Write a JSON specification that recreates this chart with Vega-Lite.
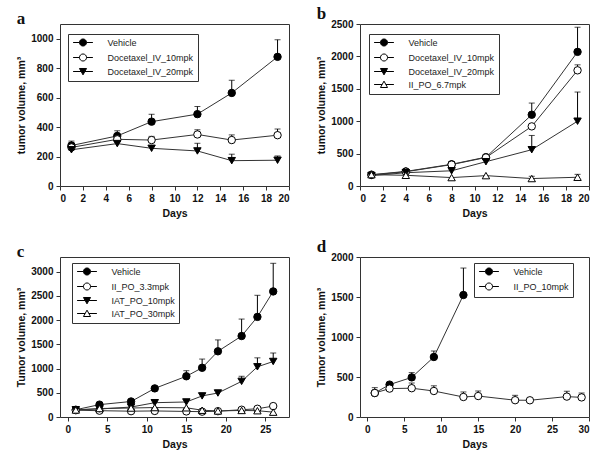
{
  "$schema": "https://vega.github.io/schema/vega-lite/v6.json",
  "padding": {"left": 16, "top": 4, "right": 5, "bottom": 5},
  "bounds": "flush",
  "columns": 2,
  "spacing": 71,
  "resolve": {"scale": {"shape": "independent", "fill": "independent", "stroke": "independent", "x": "independent", "y": "independent"}, "legend": {"shape": "independent", "fill": "independent", "stroke": "independent"}},
  "data": {"values": [
    {"p":"a","g":"Vehicle","d":1,"v":275,"hi":305},
    {"p":"a","g":"Vehicle","d":5,"v":340,"hi":375},
    {"p":"a","g":"Vehicle","d":8,"v":437,"hi":487},
    {"p":"a","g":"Vehicle","d":12,"v":488,"hi":540},
    {"p":"a","g":"Vehicle","d":15,"v":632,"hi":718},
    {"p":"a","g":"Vehicle","d":19,"v":877,"hi":993},
    {"p":"a","g":"Docetaxel_IV_10mpk","d":1,"v":262,"hi":290},
    {"p":"a","g":"Docetaxel_IV_10mpk","d":5,"v":317,"hi":345},
    {"p":"a","g":"Docetaxel_IV_10mpk","d":8,"v":312,"hi":337},
    {"p":"a","g":"Docetaxel_IV_10mpk","d":12,"v":350,"hi":382},
    {"p":"a","g":"Docetaxel_IV_10mpk","d":15,"v":312,"hi":347},
    {"p":"a","g":"Docetaxel_IV_10mpk","d":19,"v":345,"hi":387},
    {"p":"a","g":"Docetaxel_IV_20mpk","d":1,"v":246,"hi":null},
    {"p":"a","g":"Docetaxel_IV_20mpk","d":5,"v":288,"hi":null},
    {"p":"a","g":"Docetaxel_IV_20mpk","d":8,"v":256,"hi":null},
    {"p":"a","g":"Docetaxel_IV_20mpk","d":12,"v":238,"hi":290},
    {"p":"a","g":"Docetaxel_IV_20mpk","d":15,"v":172,"hi":216},
    {"p":"a","g":"Docetaxel_IV_20mpk","d":19,"v":175,"hi":204},

    {"p":"b","g":"Vehicle","d":1,"v":175,"hi":null},
    {"p":"b","g":"Vehicle","d":4,"v":225,"hi":null},
    {"p":"b","g":"Vehicle","d":8,"v":335,"hi":360},
    {"p":"b","g":"Vehicle","d":11,"v":445,"hi":470},
    {"p":"b","g":"Vehicle","d":15,"v":1100,"hi":1280},
    {"p":"b","g":"Vehicle","d":19,"v":2070,"hi":2450},
    {"p":"b","g":"Docetaxel_IV_10mpk","d":1,"v":170,"hi":null},
    {"p":"b","g":"Docetaxel_IV_10mpk","d":4,"v":220,"hi":null},
    {"p":"b","g":"Docetaxel_IV_10mpk","d":8,"v":330,"hi":370},
    {"p":"b","g":"Docetaxel_IV_10mpk","d":11,"v":440,"hi":470},
    {"p":"b","g":"Docetaxel_IV_10mpk","d":15,"v":920,"hi":null},
    {"p":"b","g":"Docetaxel_IV_10mpk","d":19,"v":1785,"hi":1870},
    {"p":"b","g":"Docetaxel_IV_20mpk","d":1,"v":160,"hi":null},
    {"p":"b","g":"Docetaxel_IV_20mpk","d":4,"v":205,"hi":null},
    {"p":"b","g":"Docetaxel_IV_20mpk","d":8,"v":235,"hi":null},
    {"p":"b","g":"Docetaxel_IV_20mpk","d":11,"v":375,"hi":null},
    {"p":"b","g":"Docetaxel_IV_20mpk","d":15,"v":560,"hi":780},
    {"p":"b","g":"Docetaxel_IV_20mpk","d":19,"v":1000,"hi":1450},
    {"p":"b","g":"II_PO_6.7mpk","d":1,"v":175,"hi":null},
    {"p":"b","g":"II_PO_6.7mpk","d":4,"v":165,"hi":null},
    {"p":"b","g":"II_PO_6.7mpk","d":8,"v":130,"hi":null},
    {"p":"b","g":"II_PO_6.7mpk","d":11,"v":160,"hi":null},
    {"p":"b","g":"II_PO_6.7mpk","d":15,"v":115,"hi":150},
    {"p":"b","g":"II_PO_6.7mpk","d":19,"v":135,"hi":180},

    {"p":"c","g":"Vehicle","d":1,"v":150,"hi":null},
    {"p":"c","g":"Vehicle","d":4,"v":255,"hi":null},
    {"p":"c","g":"Vehicle","d":8,"v":320,"hi":null},
    {"p":"c","g":"Vehicle","d":11,"v":590,"hi":null},
    {"p":"c","g":"Vehicle","d":15,"v":840,"hi":955},
    {"p":"c","g":"Vehicle","d":17,"v":1015,"hi":1195},
    {"p":"c","g":"Vehicle","d":19,"v":1355,"hi":1590},
    {"p":"c","g":"Vehicle","d":22,"v":1670,"hi":2020},
    {"p":"c","g":"Vehicle","d":24,"v":2065,"hi":2510},
    {"p":"c","g":"Vehicle","d":26,"v":2590,"hi":3170},
    {"p":"c","g":"II_PO_3.3mpk","d":1,"v":140,"hi":null},
    {"p":"c","g":"II_PO_3.3mpk","d":4,"v":130,"hi":null},
    {"p":"c","g":"II_PO_3.3mpk","d":8,"v":120,"hi":null},
    {"p":"c","g":"II_PO_3.3mpk","d":11,"v":125,"hi":null},
    {"p":"c","g":"II_PO_3.3mpk","d":15,"v":115,"hi":null},
    {"p":"c","g":"II_PO_3.3mpk","d":17,"v":110,"hi":null},
    {"p":"c","g":"II_PO_3.3mpk","d":19,"v":120,"hi":null},
    {"p":"c","g":"II_PO_3.3mpk","d":22,"v":150,"hi":180},
    {"p":"c","g":"II_PO_3.3mpk","d":24,"v":170,"hi":200},
    {"p":"c","g":"II_PO_3.3mpk","d":26,"v":225,"hi":null},
    {"p":"c","g":"IAT_PO_10mpk","d":1,"v":150,"hi":null},
    {"p":"c","g":"IAT_PO_10mpk","d":4,"v":165,"hi":null},
    {"p":"c","g":"IAT_PO_10mpk","d":8,"v":205,"hi":null},
    {"p":"c","g":"IAT_PO_10mpk","d":11,"v":295,"hi":null},
    {"p":"c","g":"IAT_PO_10mpk","d":15,"v":310,"hi":null},
    {"p":"c","g":"IAT_PO_10mpk","d":17,"v":435,"hi":null},
    {"p":"c","g":"IAT_PO_10mpk","d":19,"v":495,"hi":null},
    {"p":"c","g":"IAT_PO_10mpk","d":22,"v":735,"hi":840},
    {"p":"c","g":"IAT_PO_10mpk","d":24,"v":1035,"hi":1220},
    {"p":"c","g":"IAT_PO_10mpk","d":26,"v":1145,"hi":1320},
    {"p":"c","g":"IAT_PO_30mpk","d":1,"v":145,"hi":null},
    {"p":"c","g":"IAT_PO_30mpk","d":4,"v":175,"hi":null},
    {"p":"c","g":"IAT_PO_30mpk","d":8,"v":185,"hi":null},
    {"p":"c","g":"IAT_PO_30mpk","d":11,"v":195,"hi":null},
    {"p":"c","g":"IAT_PO_30mpk","d":15,"v":190,"hi":null},
    {"p":"c","g":"IAT_PO_30mpk","d":17,"v":140,"hi":null},
    {"p":"c","g":"IAT_PO_30mpk","d":19,"v":125,"hi":null},
    {"p":"c","g":"IAT_PO_30mpk","d":22,"v":135,"hi":null},
    {"p":"c","g":"IAT_PO_30mpk","d":24,"v":130,"hi":null},
    {"p":"c","g":"IAT_PO_30mpk","d":26,"v":100,"hi":null},

    {"p":"d","g":"Vehicle","d":1,"v":300,"hi":null},
    {"p":"d","g":"Vehicle","d":3,"v":405,"hi":null},
    {"p":"d","g":"Vehicle","d":6,"v":495,"hi":555},
    {"p":"d","g":"Vehicle","d":9,"v":750,"hi":825},
    {"p":"d","g":"Vehicle","d":13,"v":1525,"hi":1862},
    {"p":"d","g":"II_PO_10mpk","d":1,"v":300,"hi":367},
    {"p":"d","g":"II_PO_10mpk","d":3,"v":355,"hi":null},
    {"p":"d","g":"II_PO_10mpk","d":6,"v":360,"hi":425},
    {"p":"d","g":"II_PO_10mpk","d":9,"v":325,"hi":390},
    {"p":"d","g":"II_PO_10mpk","d":13,"v":250,"hi":313},
    {"p":"d","g":"II_PO_10mpk","d":15,"v":262,"hi":325},
    {"p":"d","g":"II_PO_10mpk","d":20,"v":210,"hi":271},
    {"p":"d","g":"II_PO_10mpk","d":22,"v":209,"hi":null},
    {"p":"d","g":"II_PO_10mpk","d":27,"v":255,"hi":322},
    {"p":"d","g":"II_PO_10mpk","d":29,"v":245,"hi":300}
  ]},
  "concat": [
    {
      "width": 229, "height": 162,
      "title": "a",
      "transform": [{"filter": "datum.p == 'a'"}],
      "encoding": {
        "x": {"field": "d", "type": "quantitative", "scale": {"domain": [0, 20], "nice": false, "zero": false}, "axis": {"title": "Days", "values": [0,2,4,6,8,10,12,14,16,18,20]}},
        "y": {"field": "v", "type": "quantitative", "scale": {"domain": [0, 1100], "nice": false}, "axis": {"title": "tumor volume, mm³", "values": [0,200,400,600,800,1000]}}
      },
      "layer": [
        {"transform": [{"filter": "isValid(datum.hi)"}], "mark": {"type": "rule", "color": "black", "strokeWidth": 1}, "encoding": {"y2": {"field": "hi"}}},
        {"transform": [{"filter": "isValid(datum.hi)"}], "mark": {"type": "tick", "orient": "horizontal", "size": 6, "thickness": 1, "color": "black"},
         "encoding": {"y": {"field": "hi", "type": "quantitative", "scale": {"domain": [0, 1100], "nice": false}, "axis": {"title": "tumor volume, mm³", "values": [0,200,400,600,800,1000]}}}},
        {"mark": {"type": "line", "color": "#333", "strokeWidth": 1}, "encoding": {"detail": {"field": "g"}}},
        {"transform": [{"filter": "datum.g == 'Vehicle'"}], "mark": {"type": "point", "shape": "circle", "filled": true, "fill": "black", "stroke": "black", "strokeWidth": 1, "size": 55, "opacity": 1}},
        {"transform": [{"filter": "indexof(['Docetaxel_IV_10mpk','II_PO_3.3mpk','II_PO_10mpk'], datum.g) >= 0"}], "mark": {"type": "point", "shape": "circle", "filled": true, "fill": "white", "stroke": "black", "strokeWidth": 1, "size": 55, "opacity": 1}},
        {"transform": [{"filter": "indexof(['Docetaxel_IV_20mpk','IAT_PO_10mpk'], datum.g) >= 0"}], "mark": {"type": "point", "shape": "triangle-down", "filled": true, "fill": "black", "stroke": "black", "strokeWidth": 1, "size": 55, "opacity": 1}},
        {"transform": [{"filter": "indexof(['II_PO_6.7mpk','IAT_PO_30mpk'], datum.g) >= 0"}], "mark": {"type": "point", "shape": "triangle-up", "filled": true, "fill": "white", "stroke": "black", "strokeWidth": 1, "size": 55, "opacity": 1}},
        {"transform": [{"filter": "false"}], "mark": {"type": "point", "filled": true},
         "encoding": {
           "shape": {"field": "g", "type": "nominal", "scale": {"domain": ["Vehicle","Docetaxel_IV_10mpk","Docetaxel_IV_20mpk"], "range": ["M-2.8,0L-1,0M1,0L2.8,0M-1,0A1,1,0,1,1,1,0A1,1,0,1,1,-1,0Z","M-2.8,0L-1,0M1,0L2.8,0M-1,0A1,1,0,1,1,1,0A1,1,0,1,1,-1,0Z","M-2.8,0L-0.5,0M0.5,0L2.8,0M-1,-0.85L1,-0.85L0,0.95Z"]}, "legend": {"orient": "none", "legendX": 8, "legendY": 10}},
           "fill": {"field": "g", "type": "nominal", "scale": {"domain": ["Vehicle","Docetaxel_IV_10mpk","Docetaxel_IV_20mpk"], "range": ["black","white","black"]}, "legend": {"orient": "none", "legendX": 8, "legendY": 10}},
           "stroke": {"field": "g", "type": "nominal", "scale": {"domain": ["Vehicle","Docetaxel_IV_10mpk","Docetaxel_IV_20mpk"], "range": ["black","black","black"]}, "legend": {"orient": "none", "legendX": 8, "legendY": 10}}
         }}
      ]
    },
    {
      "width": 229, "height": 162,
      "title": "b",
      "transform": [{"filter": "datum.p == 'b'"}],
      "encoding": {
        "x": {"field": "d", "type": "quantitative", "scale": {"domain": [0, 20], "nice": false, "zero": false}, "axis": {"title": "Days", "values": [0,2,4,6,8,10,12,14,16,18,20]}},
        "y": {"field": "v", "type": "quantitative", "scale": {"domain": [0, 2500], "nice": false}, "axis": {"title": "tumor volume, mm³", "values": [0,500,1000,1500,2000,2500]}}
      },
      "layer": [
        {"transform": [{"filter": "isValid(datum.hi)"}], "mark": {"type": "rule", "color": "black", "strokeWidth": 1}, "encoding": {"y2": {"field": "hi"}}},
        {"transform": [{"filter": "isValid(datum.hi)"}], "mark": {"type": "tick", "orient": "horizontal", "size": 6, "thickness": 1, "color": "black"},
         "encoding": {"y": {"field": "hi", "type": "quantitative", "scale": {"domain": [0, 2500], "nice": false}, "axis": {"title": "tumor volume, mm³", "values": [0,500,1000,1500,2000,2500]}}}},
        {"mark": {"type": "line", "color": "#333", "strokeWidth": 1}, "encoding": {"detail": {"field": "g"}}},
        {"transform": [{"filter": "datum.g == 'Vehicle'"}], "mark": {"type": "point", "shape": "circle", "filled": true, "fill": "black", "stroke": "black", "strokeWidth": 1, "size": 55, "opacity": 1}},
        {"transform": [{"filter": "indexof(['Docetaxel_IV_10mpk','II_PO_3.3mpk','II_PO_10mpk'], datum.g) >= 0"}], "mark": {"type": "point", "shape": "circle", "filled": true, "fill": "white", "stroke": "black", "strokeWidth": 1, "size": 55, "opacity": 1}},
        {"transform": [{"filter": "indexof(['Docetaxel_IV_20mpk','IAT_PO_10mpk'], datum.g) >= 0"}], "mark": {"type": "point", "shape": "triangle-down", "filled": true, "fill": "black", "stroke": "black", "strokeWidth": 1, "size": 55, "opacity": 1}},
        {"transform": [{"filter": "indexof(['II_PO_6.7mpk','IAT_PO_30mpk'], datum.g) >= 0"}], "mark": {"type": "point", "shape": "triangle-up", "filled": true, "fill": "white", "stroke": "black", "strokeWidth": 1, "size": 55, "opacity": 1}},
        {"transform": [{"filter": "false"}], "mark": {"type": "point", "filled": true},
         "encoding": {
           "shape": {"field": "g", "type": "nominal", "scale": {"domain": ["Vehicle","Docetaxel_IV_10mpk","Docetaxel_IV_20mpk","II_PO_6.7mpk"], "range": ["M-2.8,0L-1,0M1,0L2.8,0M-1,0A1,1,0,1,1,1,0A1,1,0,1,1,-1,0Z","M-2.8,0L-1,0M1,0L2.8,0M-1,0A1,1,0,1,1,1,0A1,1,0,1,1,-1,0Z","M-2.8,0L-0.5,0M0.5,0L2.8,0M-1,-0.85L1,-0.85L0,0.95Z","M-2.8,0L-0.53,0M0.53,0L2.8,0M0,-0.95L1,0.85L-1,0.85Z"]}, "legend": {"orient": "none", "legendX": 9, "legendY": 10}},
           "fill": {"field": "g", "type": "nominal", "scale": {"domain": ["Vehicle","Docetaxel_IV_10mpk","Docetaxel_IV_20mpk","II_PO_6.7mpk"], "range": ["black","white","black","white"]}, "legend": {"orient": "none", "legendX": 9, "legendY": 10}},
           "stroke": {"field": "g", "type": "nominal", "scale": {"domain": ["Vehicle","Docetaxel_IV_10mpk","Docetaxel_IV_20mpk","II_PO_6.7mpk"], "range": ["black","black","black","black"]}, "legend": {"orient": "none", "legendX": 9, "legendY": 10}}
         }}
      ]
    },
    {
      "width": 229, "height": 160,
      "title": "c",
      "transform": [{"filter": "datum.p == 'c'"}],
      "encoding": {
        "x": {"field": "d", "type": "quantitative", "scale": {"domain": [-1, 28], "nice": false, "zero": false}, "axis": {"title": "Days", "values": [0,5,10,15,20,25]}},
        "y": {"field": "v", "type": "quantitative", "scale": {"domain": [0, 3300], "nice": false}, "axis": {"title": "Tumor volume, mm³", "values": [0,500,1000,1500,2000,2500,3000]}}
      },
      "layer": [
        {"transform": [{"filter": "isValid(datum.hi)"}], "mark": {"type": "rule", "color": "black", "strokeWidth": 1}, "encoding": {"y2": {"field": "hi"}}},
        {"transform": [{"filter": "isValid(datum.hi)"}], "mark": {"type": "tick", "orient": "horizontal", "size": 6, "thickness": 1, "color": "black"},
         "encoding": {"y": {"field": "hi", "type": "quantitative", "scale": {"domain": [0, 3300], "nice": false}, "axis": {"title": "Tumor volume, mm³", "values": [0,500,1000,1500,2000,2500,3000]}}}},
        {"mark": {"type": "line", "color": "#333", "strokeWidth": 1}, "encoding": {"detail": {"field": "g"}}},
        {"transform": [{"filter": "datum.g == 'Vehicle'"}], "mark": {"type": "point", "shape": "circle", "filled": true, "fill": "black", "stroke": "black", "strokeWidth": 1, "size": 55, "opacity": 1}},
        {"transform": [{"filter": "indexof(['Docetaxel_IV_10mpk','II_PO_3.3mpk','II_PO_10mpk'], datum.g) >= 0"}], "mark": {"type": "point", "shape": "circle", "filled": true, "fill": "white", "stroke": "black", "strokeWidth": 1, "size": 55, "opacity": 1}},
        {"transform": [{"filter": "indexof(['Docetaxel_IV_20mpk','IAT_PO_10mpk'], datum.g) >= 0"}], "mark": {"type": "point", "shape": "triangle-down", "filled": true, "fill": "black", "stroke": "black", "strokeWidth": 1, "size": 55, "opacity": 1}},
        {"transform": [{"filter": "indexof(['II_PO_6.7mpk','IAT_PO_30mpk'], datum.g) >= 0"}], "mark": {"type": "point", "shape": "triangle-up", "filled": true, "fill": "white", "stroke": "black", "strokeWidth": 1, "size": 55, "opacity": 1}},
        {"transform": [{"filter": "false"}], "mark": {"type": "point", "filled": true},
         "encoding": {
           "shape": {"field": "g", "type": "nominal", "scale": {"domain": ["Vehicle","II_PO_3.3mpk","IAT_PO_10mpk","IAT_PO_30mpk"], "range": ["M-2.8,0L-1,0M1,0L2.8,0M-1,0A1,1,0,1,1,1,0A1,1,0,1,1,-1,0Z","M-2.8,0L-1,0M1,0L2.8,0M-1,0A1,1,0,1,1,1,0A1,1,0,1,1,-1,0Z","M-2.8,0L-0.5,0M0.5,0L2.8,0M-1,-0.85L1,-0.85L0,0.95Z","M-2.8,0L-0.53,0M0.53,0L2.8,0M0,-0.95L1,0.85L-1,0.85Z"]}, "legend": {"orient": "none", "legendX": 12, "legendY": 6}},
           "fill": {"field": "g", "type": "nominal", "scale": {"domain": ["Vehicle","II_PO_3.3mpk","IAT_PO_10mpk","IAT_PO_30mpk"], "range": ["black","white","black","white"]}, "legend": {"orient": "none", "legendX": 12, "legendY": 6}},
           "stroke": {"field": "g", "type": "nominal", "scale": {"domain": ["Vehicle","II_PO_3.3mpk","IAT_PO_10mpk","IAT_PO_30mpk"], "range": ["black","black","black","black"]}, "legend": {"orient": "none", "legendX": 12, "legendY": 6}}
         }}
      ]
    },
    {
      "width": 229, "height": 160,
      "title": "d",
      "transform": [{"filter": "datum.p == 'd'"}],
      "encoding": {
        "x": {"field": "d", "type": "quantitative", "scale": {"domain": [-1, 30], "nice": false, "zero": false}, "axis": {"title": "Days", "values": [0,5,10,15,20,25,30]}},
        "y": {"field": "v", "type": "quantitative", "scale": {"domain": [0, 2000], "nice": false}, "axis": {"title": "Tumor volume, mm³", "values": [0,500,1000,1500,2000]}}
      },
      "layer": [
        {"transform": [{"filter": "isValid(datum.hi)"}], "mark": {"type": "rule", "color": "black", "strokeWidth": 1}, "encoding": {"y2": {"field": "hi"}}},
        {"transform": [{"filter": "isValid(datum.hi)"}], "mark": {"type": "tick", "orient": "horizontal", "size": 6, "thickness": 1, "color": "black"},
         "encoding": {"y": {"field": "hi", "type": "quantitative", "scale": {"domain": [0, 2000], "nice": false}, "axis": {"title": "Tumor volume, mm³", "values": [0,500,1000,1500,2000]}}}},
        {"mark": {"type": "line", "color": "#333", "strokeWidth": 1}, "encoding": {"detail": {"field": "g"}}},
        {"transform": [{"filter": "datum.g == 'Vehicle'"}], "mark": {"type": "point", "shape": "circle", "filled": true, "fill": "black", "stroke": "black", "strokeWidth": 1, "size": 55, "opacity": 1}},
        {"transform": [{"filter": "indexof(['Docetaxel_IV_10mpk','II_PO_3.3mpk','II_PO_10mpk'], datum.g) >= 0"}], "mark": {"type": "point", "shape": "circle", "filled": true, "fill": "white", "stroke": "black", "strokeWidth": 1, "size": 55, "opacity": 1}},
        {"transform": [{"filter": "false"}], "mark": {"type": "point", "filled": true},
         "encoding": {
           "shape": {"field": "g", "type": "nominal", "scale": {"domain": ["Vehicle","II_PO_10mpk"], "range": ["M-2.8,0L-1,0M1,0L2.8,0M-1,0A1,1,0,1,1,1,0A1,1,0,1,1,-1,0Z","M-2.8,0L-1,0M1,0L2.8,0M-1,0A1,1,0,1,1,1,0A1,1,0,1,1,-1,0Z"]}, "legend": {"orient": "none", "legendX": 114, "legendY": 6}},
           "fill": {"field": "g", "type": "nominal", "scale": {"domain": ["Vehicle","II_PO_10mpk"], "range": ["black","white"]}, "legend": {"orient": "none", "legendX": 114, "legendY": 6}},
           "stroke": {"field": "g", "type": "nominal", "scale": {"domain": ["Vehicle","II_PO_10mpk"], "range": ["black","black"]}, "legend": {"orient": "none", "legendX": 114, "legendY": 6}}
         }}
      ]
    }
  ],
  "config": {
    "view": {"stroke": "#333", "strokeWidth": 1},
    "axis": {"grid": false, "domain": false, "ticks": true, "tickSize": 4, "tickColor": "#333", "format": "d", "labelFont": "Liberation Sans", "labelFontWeight": "bold", "labelFontSize": 10, "labelColor": "#111", "labelPadding": 3, "titleFont": "Liberation Sans", "titleFontWeight": "bold", "titleFontSize": 10.5, "titleColor": "#111"},
    "axisX": {"titlePadding": 5},
    "axisY": {"titlePadding": 4},
    "title": {"font": "Liberation Serif", "fontWeight": "bold", "fontSize": 17, "anchor": "start", "frame": "bounds", "offset": -4, "color": "#111"},
    "legend": {
      "title": null, "padding": 4, "strokeColor": "#333", "fillColor": "white",
      "labelFont": "Liberation Sans", "labelFontSize": 9, "labelColor": "#222",
      "symbolSize": 50, "symbolOffset": 6.5, "labelOffset": 20, "rowPadding": 2,
      "symbolStrokeWidth": 1, "symbolStrokeColor": "black", "symbolOpacity": 1
    }
  }
}
